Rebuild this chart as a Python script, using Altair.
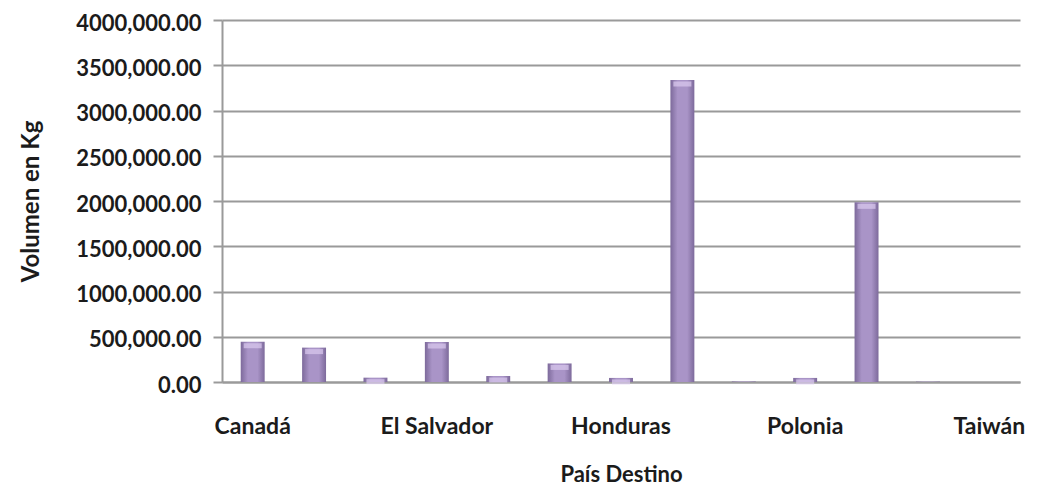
import altair as alt
import pandas as pd

countries = ["Canadá", "Chile", "Costa Rica", "El Salvador", "España", "Guatemala",
             "Honduras", "México", "Panamá", "Polonia", "Rusia", "Suecia", "Taiwán"]
volumes = [445000, 380000, 48000, 442000, 66000, 205000,
           45000, 3337000, 6000, 45000, 1985000, 4000, 0]
shown_labels = ["Canadá", "El Salvador", "Honduras", "Polonia", "Taiwán"]

df = pd.DataFrame({"pais": countries, "vol": volumes})

FONT = "Lato"
TXT = "#1b1b1b"

x_enc = alt.X("pais:N", sort=countries, title="País Destino",
              scale=alt.Scale(paddingInner=0.61, paddingOuter=0.305),
              axis=alt.Axis(values=shown_labels, labelAngle=0, ticks=False,
                            labelPadding=33, labelFont=FONT, labelFontSize=23,
                            labelFontWeight="bold", labelColor=TXT,
                            titleFont=FONT, titleFontSize=22, titleFontWeight="bold",
                            titleColor=TXT, titlePadding=26,
                            domainColor="#9a9a9a", domainWidth=2, grid=False))

y_enc = alt.Y("vol:Q", title="Volumen en Kg",
              scale=alt.Scale(domain=[0, 4000000], nice=False),
              axis=alt.Axis(values=[i * 500000 for i in range(9)],
                            labelExpr="datum.value == 0 ? '0.00' : (datum.value/1000) + ',000.00'",
                            labelFont=FONT, labelFontSize=22, labelFontWeight="bold",
                            labelColor=TXT, labelPadding=12,
                            labelBaseline="alphabetic", labelOffset=10,
                            tickSize=9, tickColor="#9a9a9a", tickWidth=2,
                            domainColor="#9a9a9a", domainWidth=2,
                            gridColor="#9a9a9a", gridWidth=2,
                            titleFont=FONT, titleFontSize=24, titleFontWeight="bold",
                            titleColor=TXT, titlePadding=32))

bars = alt.Chart(df).mark_bar(
    color=alt.Gradient(gradient="linear", x1=0, x2=1, y1=0, y2=0,
                       stops=[alt.GradientStop(offset=0, color="#7d6a9b"),
                              alt.GradientStop(offset=0.3, color="#a994c7"),
                              alt.GradientStop(offset=0.7, color="#a994c7"),
                              alt.GradientStop(offset=1, color="#7d6a9b")])
).encode(x=x_enc, y=y_enc)

caps = alt.Chart(df).transform_filter("datum.vol > 30000").mark_tick(
    color="#dccaf0", size=18, thickness=5, yOffset=4
).encode(x=alt.X("pais:N", sort=countries), y="vol:Q")

chart = alt.layer(bars, caps).properties(
    width=798, height=362,
    padding={"left": 214, "top": 12, "right": 13, "bottom": 106},
    autosize=alt.AutoSizeParams(type="none"),
    background="white"
).configure_view(stroke=None)

chart.save("out.html", embed_options={"renderer": "svg", "actions": False})
